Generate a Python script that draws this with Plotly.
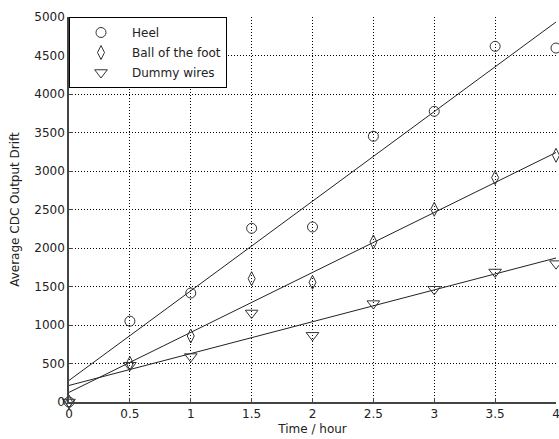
import plotly.graph_objects as go

time_h = [0, 0.5, 1, 1.5, 2, 2.5, 3, 3.5, 4]
heel = [0, 1050, 1415, 2256, 2273, 3451, 3775, 4619, 4597]
ball = [0, 503, 857, 1602, 1555, 2078, 2503, 2914, 3204]
dummy = [0, 477, 590, 1156, 866, 1278, 1464, 1688, 1797]

fit_x = [0, 4]
heel_fit = [280, 4935]
ball_fit = [125, 3240]
dummy_fit = [215, 1870]

x_ticks = [0, 0.5, 1, 1.5, 2, 2.5, 3, 3.5, 4]
x_tick_text = ["0", "0.5", "1", "1.5", "2", "2.5", "3", "3.5", "4"]
y_ticks = [0, 500, 1000, 1500, 2000, 2500, 3000, 3500, 4000, 4500, 5000]

mc = "#333333"
fig = go.Figure()
for yf in (heel_fit, ball_fit, dummy_fit):
    fig.add_trace(go.Scatter(x=fit_x, y=yf, mode="lines", showlegend=False,
                             line=dict(color="#222222", width=1), hoverinfo="skip"))

for i, (name, ys, sym, sz) in enumerate((("Heel", heel, "circle-open", 10),
                                         ("Ball of the foot", ball, "diamond-tall-open", 10),
                                         ("Dummy wires", dummy, "triangle-down-open", 11))):
    fig.add_trace(go.Scatter(x=time_h, y=ys, mode="markers", name=name,
                             legendgroup="g%d" % i,
                             marker=dict(symbol=sym, size=sz, color=mc,
                                         line=dict(color=mc, width=1)),
                             cliponaxis=False))

font = dict(family="DejaVu Sans, sans-serif", size=12, color="#222222")
fig.update_layout(
    width=559, height=439,
    margin=dict(l=69, r=3, t=17, b=37),
    paper_bgcolor="white", plot_bgcolor="white",
    font=font,
    legend=dict(x=0, y=1, xanchor="left", yanchor="top",
                bgcolor="white", bordercolor="black", borderwidth=1,
                font=font, itemwidth=52, traceorder="grouped", tracegroupgap=1),
    xaxis=dict(range=[0, 4], tickvals=x_ticks, ticktext=x_tick_text,
               showgrid=True, gridcolor="black", griddash="1px,2px", gridwidth=1,
               showline=True, linecolor="#444444", linewidth=1.5, mirror=False,
               ticks="inside", ticklen=4, tickcolor="#444444",
               zeroline=False, automargin=False, ticklabelstandoff=0,
               ticklabeloverflow="allow",
               title=dict(text="Time / hour", standoff=4, font=font)),
    yaxis=dict(range=[0, 5000], tickvals=y_ticks,
               showgrid=True, gridcolor="black", griddash="1px,2px", gridwidth=1,
               showline=True, linecolor="#444444", linewidth=1.5, mirror=False,
               ticks="inside", ticklen=4, tickcolor="#444444",
               zeroline=False, automargin=False, ticklabeloverflow="allow",
               title=dict(text="Average CDC Output Drift", standoff=12, font=font)),
)
fig.write_html("out.html", config={"displayModeBar": False},
               post_script="document.body.style.margin='0';")
